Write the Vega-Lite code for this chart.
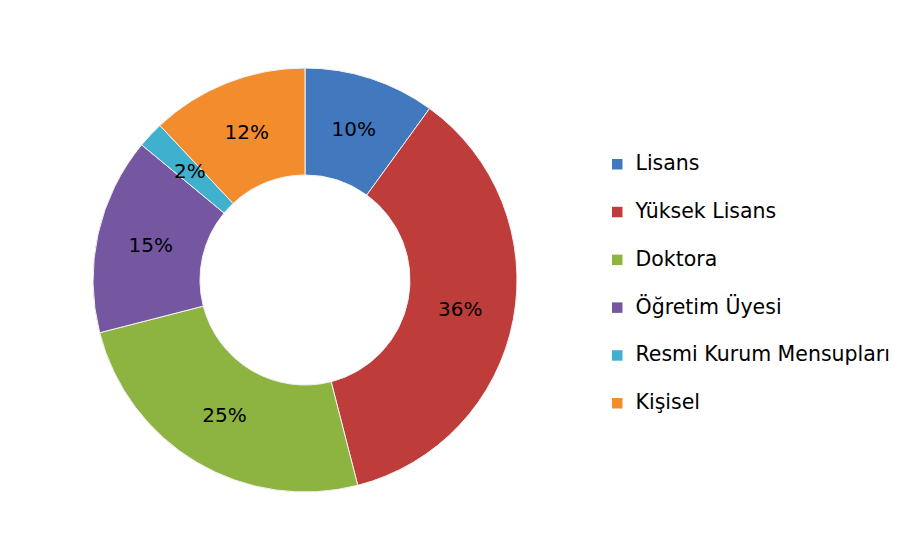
{
  "$schema": "https://vega.github.io/schema/vega-lite/v6.json",
  "width": 610,
  "height": 550,
  "autosize": {"type": "none"},
  "padding": {"left": 0, "top": 5, "right": 310, "bottom": 0},
  "background": "white",
  "config": {"view": {"stroke": null}, "font": "DejaVu Sans"},
  "data": {
    "values": [
      {"sira": 1, "kategori": "Lisans", "oran": 0.10},
      {"sira": 2, "kategori": "Yüksek Lisans", "oran": 0.36},
      {"sira": 3, "kategori": "Doktora", "oran": 0.25},
      {"sira": 4, "kategori": "Öğretim Üyesi", "oran": 0.15},
      {"sira": 5, "kategori": "Resmi Kurum Mensupları", "oran": 0.02},
      {"sira": 6, "kategori": "Kişisel", "oran": 0.12}
    ]
  },
  "encoding": {
    "theta": {"field": "oran", "type": "quantitative", "stack": true},
    "order": {"field": "sira", "type": "quantitative"}
  },
  "layer": [
    {
      "mark": {"type": "arc", "innerRadius": 105, "outerRadius": 212, "stroke": "#f2f2f2", "strokeWidth": 1},
      "encoding": {
        "color": {
          "field": "kategori",
          "type": "nominal",
          "scale": {
            "domain": ["Lisans", "Yüksek Lisans", "Doktora", "Öğretim Üyesi", "Resmi Kurum Mensupları", "Kişisel"],
            "range": ["#4178BE", "#BE3D3A", "#8DB441", "#7457A0", "#3FB0CE", "#F28C2C"]
          },
          "legend": {
            "title": null,
            "orient": "none",
            "legendX": 607,
            "legendY": 149,
            "padding": 0,
            "symbolType": "square",
            "symbolSize": 110,
            "symbolStrokeWidth": 0,
            "symbolOpacity": 1,
            "labelFontSize": 20.5,
            "labelFont": "DejaVu Sans",
            "labelColor": "black",
            "labelOffset": 8,
            "labelLimit": 400,
            "rowPadding": 26.8
          }
        }
      }
    },
    {
      "mark": {"type": "text", "radius": 158, "fontSize": 20, "font": "DejaVu Sans", "color": "black"},
      "encoding": {
        "detail": {"field": "kategori"},
        "text": {"field": "oran", "type": "quantitative", "format": ".0%"}
      }
    }
  ]
}
